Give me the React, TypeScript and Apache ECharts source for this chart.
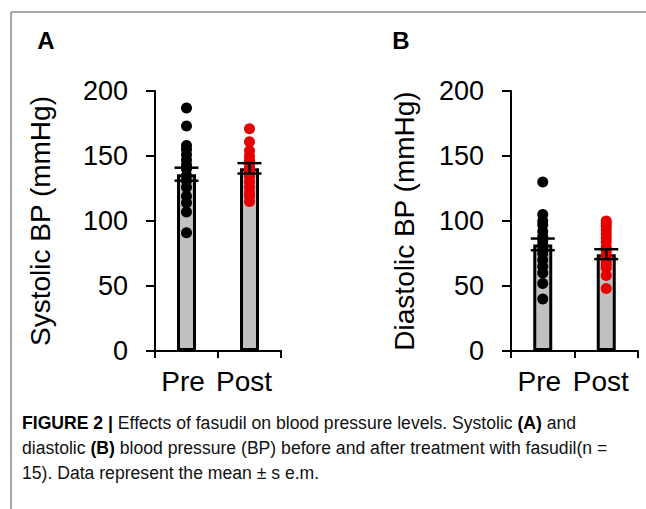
import React, { useEffect, useRef } from "react";
import * as echarts from "echarts";

const categories = ["Pre", "Post"];
const yMin = 0;
const yMax = 200;
const yInterval = 50;

// Systolic BP (mmHg), individual subjects
const sysPre = [187, 173, 158, 155, 151, 147, 143, 140, 135, 131, 126, 119, 114, 107, 91];
const sysPost = [171, 161, 154, 150, 147, 145, 142, 140, 138, 134, 130, 126, 122, 119, 115];
const sysMean = [136, 140.5];
const sysSem = [5, 4];

// Diastolic BP (mmHg), individual subjects
const diaPre = [130, 105, 100, 97, 92, 88, 85, 82, 78, 75, 70, 65, 60, 52, 40];
const diaPost = [100, 98, 96, 93, 90, 87, 84, 80, 77, 74, 70, 67, 64, 58, 48];
const diaMean = [82, 74.5];
const diaSem = [4.5, 3.8];

const panelLabels = ["A", "B"];
const yTitles = ["Systolic BP (mmHg)", "Diastolic BP (mmHg)"];
const captionLines = [
  "{b|FIGURE 2 |} Effects of fasudil on blood pressure levels. Systolic {b|(A)} and",
  "diastolic {b|(B)} blood pressure (BP) before and after treatment with fasudil(n =",
  "15). Data represent the mean ± s e.m.",
];

const FONT = "'Liberation Sans', Arial, Helvetica, sans-serif";

function errorRender(params: any, api: any) {
  const x = api.value(0);
  const m = api.value(1);
  const s = api.value(2);
  const hi = api.coord([x, m + s]);
  const lo = api.coord([x, m - s]);
  const w = 12;
  const st = { stroke: "#000", lineWidth: 2.5 };
  return {
    type: "group",
    children: [
      { type: "line", shape: { x1: hi[0], y1: hi[1], x2: lo[0], y2: lo[1] }, style: st },
      { type: "line", shape: { x1: hi[0] - w, y1: hi[1], x2: hi[0] + w, y2: hi[1] }, style: st },
      { type: "line", shape: { x1: lo[0] - w, y1: lo[1], x2: lo[0] + w, y2: lo[1] }, style: st },
    ],
  };
}

export default function App() {
  const ref = useRef<HTMLDivElement>(null);
  useEffect(() => {
    if (!ref.current) return;
    const chart = echarts.init(ref.current, undefined, { renderer: "svg" });

    const mkX = (gi: number) => ({
      type: "category",
      gridIndex: gi,
      data: categories,
      boundaryGap: true,
      axisLine: { show: true, lineStyle: { color: "#000", width: 2 } },
      axisTick: { show: true, length: 7, lineStyle: { color: "#000", width: 2 } },
      axisLabel: {
        interval: 0,
        hideOverlap: false,
        fontSize: 28,
        color: "#000",
        margin: 16,
        fontFamily: FONT,
        formatter: (v: string, i: number) => (i === 0 ? `{a|${v}}` : `{b|${v}}`),
        rich: {
          a: { fontSize: 28, color: "#000", fontFamily: FONT, padding: [0, 7, 0, 0] },
          b: { fontSize: 28, color: "#000", fontFamily: FONT, padding: [0, 11, 0, 0] },
        },
      },
      splitLine: { show: false },
    });
    const mkY = (gi: number) => ({
      type: "value",
      gridIndex: gi,
      min: yMin,
      max: yMax,
      interval: yInterval,
      axisLine: { show: true, lineStyle: { color: "#000", width: 2 } },
      axisTick: { show: true, length: 9, lineStyle: { color: "#000", width: 2 } },
      axisLabel: { fontSize: 27, color: "#000", margin: 27, fontFamily: FONT },
      splitLine: { show: false },
    });

    const barSeries = (gi: number, means: number[]) => ({
      type: "bar",
      xAxisIndex: gi,
      yAxisIndex: gi,
      data: means,
      barWidth: 19,
      itemStyle: { color: "#c0c0c0", borderColor: "#000", borderWidth: 3 },
      z: 1,
    });
    const dotSeries = (gi: number, idx: number, vals: number[], color: string) => ({
      type: "scatter",
      xAxisIndex: gi,
      yAxisIndex: gi,
      data: vals.map((v) => [idx, v]),
      symbol: "circle",
      symbolSize: 11,
      itemStyle: { color, opacity: 1 },
      z: 3,
    });
    const errSeries = (gi: number, means: number[], sems: number[]) => ({
      type: "custom",
      xAxisIndex: gi,
      yAxisIndex: gi,
      renderItem: errorRender,
      encode: { x: 0, y: 1 },
      data: means.map((m, i) => [i, m, sems[i]]),
      z: 4,
    });

    const graphics: any[] = [
      { type: "line", shape: { x1: 11, y1: 12, x2: 646, y2: 12 }, style: { stroke: "#8a8a8a", lineWidth: 1.5 } },
      { type: "line", shape: { x1: 11, y1: 12, x2: 11, y2: 509 }, style: { stroke: "#8a8a8a", lineWidth: 1.5 } },
      {
        type: "text", x: 46, y: 40,
        style: { text: panelLabels[0], fontSize: 24, fontWeight: "bold", fill: "#000", fontFamily: FONT, align: "center", verticalAlign: "middle" },
      },
      {
        type: "text", x: 401, y: 40,
        style: { text: panelLabels[1], fontSize: 24, fontWeight: "bold", fill: "#000", fontFamily: FONT, align: "center", verticalAlign: "middle" },
      },
      {
        type: "text", x: 40, y: 221, rotation: Math.PI / 2,
        style: { text: yTitles[0], fontSize: 28, fill: "#000", fontFamily: FONT, align: "center", verticalAlign: "middle" },
      },
      {
        type: "text", x: 404, y: 221, rotation: Math.PI / 2,
        style: { text: yTitles[1], fontSize: 28, fill: "#000", fontFamily: FONT, align: "center", verticalAlign: "middle" },
      },
    ];
    captionLines.forEach((line, i) => {
      graphics.push({
        type: "text",
        x: 22,
        y: 423 + i * 25,
        style: {
          text: line,
          fontSize: 17.6,
          fill: "#111",
          fontFamily: FONT,
          align: "left",
          verticalAlign: "middle",
          rich: { b: { fontWeight: "bold", fontSize: 17.6, fill: "#000", fontFamily: FONT } },
        },
      });
    });

    chart.setOption({
      animation: false,
      backgroundColor: "#fff",
      grid: [
        { left: 155, top: 91, width: 126, height: 260, containLabel: false },
        { left: 511, top: 91, width: 127, height: 260, containLabel: false },
      ],
      xAxis: [mkX(0), mkX(1)],
      yAxis: [mkY(0), mkY(1)],
      series: [
        barSeries(0, sysMean),
        dotSeries(0, 0, sysPre, "#000"),
        dotSeries(0, 1, sysPost, "#e60000"),
        errSeries(0, sysMean, sysSem),
        barSeries(1, diaMean),
        dotSeries(1, 0, diaPre, "#000"),
        dotSeries(1, 1, diaPost, "#e60000"),
        errSeries(1, diaMean, diaSem),
      ],
      graphic: graphics,
    });
    return () => chart.dispose();
  }, []);
  return (
    <div
      ref={ref}
      style={{ position: "fixed", left: 0, top: 0, width: 646, height: 509, background: "#fff" }}
    />
  );
}
